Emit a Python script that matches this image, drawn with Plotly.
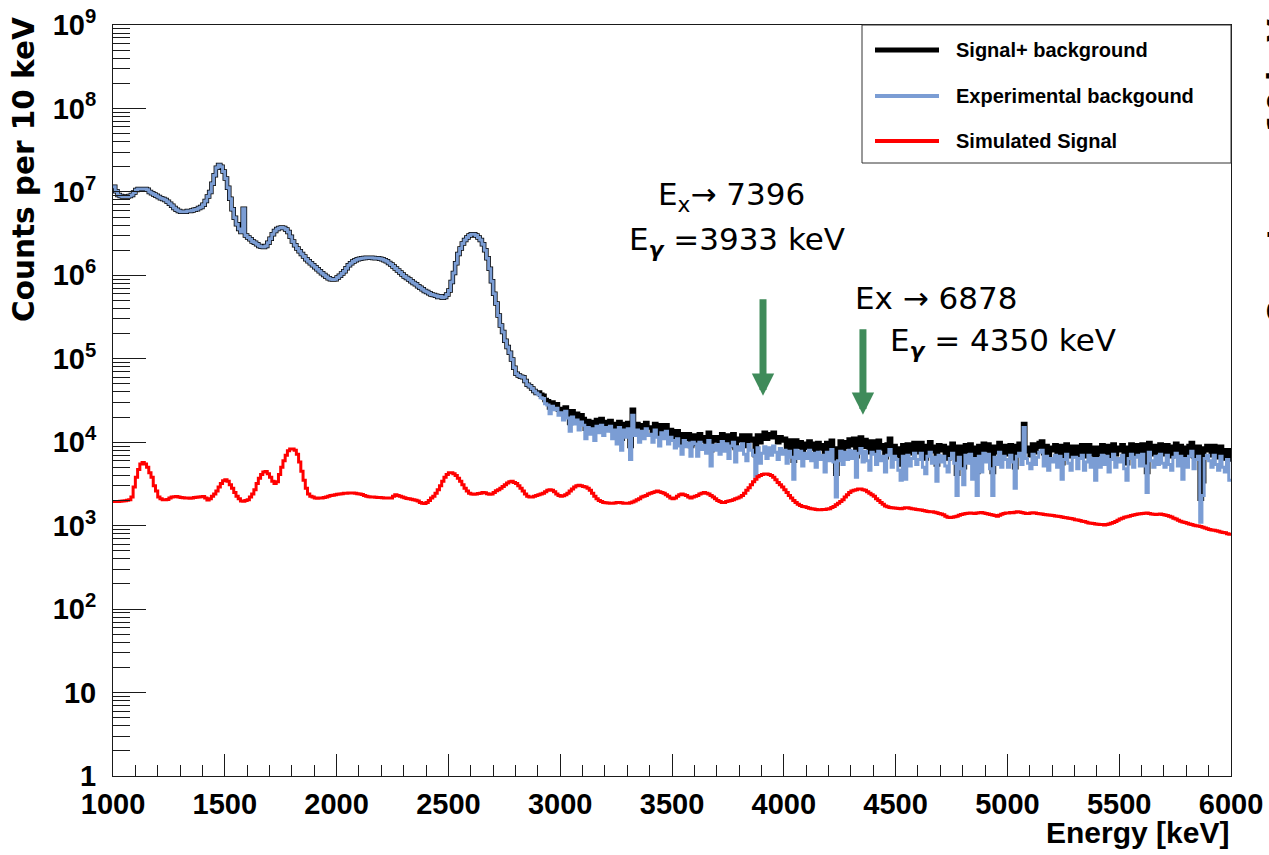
import numpy as np
import plotly.graph_objects as go

# ---------------- data (counts per 10 keV bin, bins start at 1000 keV) ----------------
bin_width = 10
energy_min = 1000
energy_max = 6000

# 1000-2890 keV: signal+background and background coincide
common_low = [
    1.15e7, 1.02e7, 9.2e6, 8.9e6, 8.8e6, 8.8e6, 8.8e6, 8.9e6, 9.2e6, 9.8e6,
    1.05e7, 1.08e7, 1.08e7, 1.08e7, 1.08e7, 1.06e7, 1.0e7, 9.6e6, 9.3e6, 9.0e6,
    8.7e6, 8.4e6, 8.2e6, 8.0e6, 7.6e6, 7.2e6, 6.8e6, 6.4e6, 6.1e6, 5.9e6,
    5.8e6, 5.8e6, 5.8e6, 5.9e6, 5.9e6, 6.0e6, 6.1e6, 6.2e6, 6.4e6, 6.6e6,
    7.0e6, 7.8e6, 8.8e6, 1.0e7, 1.25e7, 1.58e7, 1.95e7, 2.1e7, 2.0e7, 1.75e7,
    1.45e7, 1.12e7, 8.3e6, 6.2e6, 4.9e6, 4.1e6, 3.6e6, 3.3e6, 6.3e6, 3.0e6,
    2.85e6, 2.7e6, 2.55e6, 2.45e6, 2.35e6, 2.25e6, 2.2e6, 2.18e6, 2.25e6, 2.45e6,
    2.75e6, 3.1e6, 3.4e6, 3.6e6, 3.7e6, 3.75e6, 3.7e6, 3.55e6, 3.3e6, 2.9e6,
    2.55e6, 2.3e6, 2.1e6, 1.95e6, 1.8e6, 1.68e6, 1.56e6, 1.48e6, 1.4e6, 1.32e6,
    1.25e6, 1.18e6, 1.12e6, 1.06e6, 1.01e6, 9.6e5, 9.2e5, 9.0e5, 8.9e5, 9.0e5,
    9.4e5, 9.9e5, 1.05e6, 1.12e6, 1.22e6, 1.32e6, 1.4e6, 1.46e6, 1.52e6, 1.56e6,
    1.58e6, 1.6e6, 1.61e6, 1.62e6, 1.62e6, 1.62e6, 1.61e6, 1.6e6, 1.6e6, 1.58e6,
    1.56e6, 1.52e6, 1.47e6, 1.41e6, 1.35e6, 1.28e6, 1.21e6, 1.14e6, 1.08e6, 1.02e6,
    9.7e5, 9.3e5, 8.9e5, 8.5e5, 8.1e5, 7.8e5, 7.4e5, 7.1e5, 6.8e5, 6.5e5,
    6.3e5, 6.1e5, 5.9e5, 5.8e5, 5.7e5, 5.5e5, 5.6e5, 5.4e5, 5.5e5, 5.9e5,
    6.6e5, 8.3e5, 1.07e6, 1.4e6, 1.8e6, 2.1e6, 2.4e6, 2.65e6, 2.85e6, 3.0e6,
    3.1e6, 3.1e6, 3.0e6, 2.85e6, 2.65e6, 2.35e6, 2.0e6, 1.6e6, 1.2e6, 8.5e5,
    6.0e5, 4.6e5, 3.3e5, 2.5e5, 2.1e5, 1.65e5, 1.38e5, 1.18e5, 9.8e4, 7.8e4,
    6.6e4, 6.3e4, 6.1e4, 6.0e4, 5.4e4, 4.9e4, 4.7e4, 4.4e4, 4.1e4, 3.9e4,
]

# 2900-5990 keV: experimental background
background_high = [
    37000, 34000, 33500, 29000, 28000, 22000, 27000, 24500, 25500, 21000,
    22500, 18500, 23500, 19500, 13500, 20000, 16500, 18500, 14000, 17500,
    16000, 11000, 15000, 12500, 14500, 10500, 15500, 13000, 16000, 12000,
    15000, 13500, 15500, 11000, 14000, 9500, 15000, 8000, 14000, 11500,
    14500, 6200, 21000, 12000, 14000, 10000, 13500, 11000, 14500, 12000,
    12500, 10000, 14000, 11500, 9000, 13000, 11000, 13500, 9500, 11500,
    10500, 8500, 11000, 9000, 7200, 10500, 8800, 9800, 6800, 10000,
    9500, 6800, 10000, 8200, 9200, 7400, 10500, 5200, 9200, 8000,
    9400, 7200, 10200, 7800, 9600, 6400, 9000, 10000, 5800, 8800,
    8000, 9600, 7200, 6000, 9400, 8000, 7000, 3900, 8600, 5600,
    7400, 8800, 6400, 8600, 7000, 9000, 7600, 6200, 8400, 7200,
    8000, 5600, 7800, 6600, 3600, 8000, 6400, 7800, 5200, 7400,
    6400, 8000, 6000, 7400, 5000, 7600, 6200, 7000, 4400, 7600,
    6000, 8200, 5800, 2200, 6000, 7800, 5400, 7600, 6200, 8000,
    6400, 7800, 3800, 7400, 8400, 5800, 7800, 6000, 4600, 7600,
    7200, 5400, 7800, 6000, 6800, 4400, 7000, 8200, 5000, 6800,
    6200, 4600, 3500, 6800, 3600, 7000, 5200, 6400, 7400, 5400,
    6200, 7400, 5000, 4200, 6800, 7600, 5600, 6600, 3400, 7000,
    5800, 6800, 5200, 4400, 6400, 7400, 5600, 2300, 6600, 4800,
    3100, 7000, 5600, 7200, 3600, 6400, 2300, 6800, 4400, 7400,
    5800, 7200, 4800, 2300, 6600, 5400, 7600, 5000, 6800, 6200,
    5000, 7000, 5800, 2800, 6800, 7400, 5400, 15000, 6400, 5600,
    4800, 7200, 5400, 6600, 7600, 8000, 5200, 6800, 4600, 6400,
    5800, 7000, 5000, 6800, 3600, 6200, 7200, 5600, 4600, 6600,
    6600, 4800, 6400, 7000, 4600, 5800, 7000, 5000, 6400, 3500,
    6400, 5000, 7000, 5400, 6800, 4400, 6200, 7200, 5000, 6400,
    5800, 7000, 4800, 3500, 6400, 7200, 5000, 6600, 7000, 5200,
    7200, 5200, 2500, 7600, 6000, 5000, 6800, 5400, 7200, 5600,
    5000, 7000, 5400, 4600, 6600, 7400, 5200, 6800, 3600, 6400,
    5000, 6800, 7800, 4800, 6200, 6800, 1100, 2300, 6400, 7000,
    6000, 5000, 7000, 5400, 4600, 6800, 5000, 4400, 6200, 3500,
]

# 2900-5990 keV: signal + background
signal_background_high = [
    39500, 37000, 36000, 32000, 31000, 26000, 30000, 28000, 28500, 24500,
    25000, 22000, 26000, 23000, 17000, 23500, 20000, 22000, 17500, 21000,
    19000, 14500, 18000, 15500, 17500, 13500, 18500, 16000, 19000, 14500,
    17500, 16500, 18000, 14000, 16500, 12000, 17500, 11000, 16500, 14000,
    17000, 9000, 24500, 15000, 16500, 13000, 16000, 13500, 17000, 15000,
    15000, 13000, 16500, 14500, 12000, 16000, 13500, 16000, 12500, 14000,
    13000, 11000, 13500, 11500, 9500, 12500, 11000, 12500, 9000, 12000,
    12000, 9500, 12500, 10500, 11500, 10000, 13000, 8000, 11500, 10500,
    11500, 9500, 12500, 10500, 12000, 9000, 11500, 12500, 8500, 11000,
    10500, 12000, 10000, 9000, 12000, 11000, 10500, 7000, 12000, 10000,
    11500, 13000, 11000, 12500, 11500, 13000, 11500, 10000, 11500, 10500,
    11000, 8500, 10500, 9500, 6000, 10500, 8800, 10000, 7800, 9600,
    8600, 10200, 8400, 9600, 7400, 9800, 8400, 9200, 6800, 9800,
    8200, 10400, 8200, 4200, 8400, 10200, 7800, 10000, 8800, 10800,
    9200, 11000, 6800, 10400, 11400, 8800, 10600, 9000, 7600, 10200,
    9600, 7800, 10400, 8400, 9200, 6600, 9400, 11000, 7400, 9000,
    8400, 7000, 5400, 9200, 5800, 9400, 7400, 8600, 9800, 7600,
    8400, 9800, 7200, 6400, 9000, 10000, 7800, 8800, 5400, 9200,
    8000, 9000, 7400, 6400, 8600, 9600, 7800, 4200, 8800, 7000,
    5000, 9200, 7800, 9400, 5800, 8600, 4400, 9000, 6600, 9600,
    8000, 9400, 7000, 4400, 8800, 7600, 9800, 7200, 9000, 8400,
    7200, 9200, 8000, 5000, 9000, 9600, 7600, 16500, 8600, 7800,
    7000, 9400, 7600, 8800, 9800, 10200, 7400, 9000, 6800, 8600,
    8000, 9200, 7200, 9000, 5600, 8400, 9400, 7800, 6800, 8800,
    8800, 7000, 8600, 9200, 6800, 8000, 9200, 7200, 8600, 5400,
    8600, 7200, 9200, 7600, 9000, 6600, 8400, 9400, 7200, 8600,
    8000, 9200, 7000, 5600, 8600, 9400, 7200, 8800, 9200, 7400,
    9400, 7400, 4400, 9800, 8200, 7200, 9000, 7600, 9400, 7800,
    7200, 9200, 7600, 6800, 8800, 9600, 7400, 9000, 5600, 8600,
    7000, 9000, 9800, 6800, 8200, 8800, 2100, 3400, 8400, 9000,
    8000, 7000, 9000, 7400, 6600, 8800, 7000, 6400, 8000, 6200,
]

# 1000-5990 keV: simulated signal
simulated_signal = [
    1950, 1950, 1950, 1960, 1980, 1990, 2010, 2050, 2200, 2900,
    3800, 4700, 5500, 5700, 5500, 5000, 4300, 3800, 3000, 2600,
    2200, 2100, 2050, 2040, 2060, 2150, 2200, 2220, 2230, 2200,
    2170, 2160, 2150, 2140, 2130, 2150, 2170, 2190, 2200, 2220,
    2240, 2150, 2030, 2100, 2250, 2400, 2600, 2900, 3200, 3450,
    3550, 3400, 3100, 2800, 2500, 2250, 2100, 1980, 1960, 2000,
    2050, 2200, 2400, 2700, 3200, 3700, 4100, 4400, 4450, 4200,
    3800, 3400, 3200, 3350, 4100, 5000, 6000, 7000, 7900, 8300,
    8300, 8000, 7200, 5800, 4500, 3500, 2800, 2400, 2250, 2200,
    2150, 2130, 2140, 2150, 2170, 2200, 2250, 2300, 2320, 2350,
    2380, 2400, 2420, 2440, 2450, 2460, 2470, 2460, 2440, 2420,
    2400, 2360, 2300, 2250, 2220, 2200, 2200, 2190, 2180, 2170,
    2160, 2150, 2140, 2140, 2150, 2250, 2350, 2300, 2250, 2200,
    2160, 2120, 2100, 2080, 2050, 2020, 1980, 1900, 1850, 1840,
    1900, 2000, 2150, 2250, 2450, 2700, 3000, 3400, 3800, 4100,
    4300, 4300, 4200, 4000, 3700, 3400, 3100, 2800, 2600, 2450,
    2400, 2380, 2400, 2430, 2450, 2500, 2480, 2420, 2380, 2400,
    2500, 2620, 2700, 2800, 2950, 3100, 3250, 3350, 3400, 3300,
    3200, 3000, 2800, 2600, 2400, 2250, 2200, 2200, 2250, 2300,
    2350, 2400, 2450, 2550, 2650, 2700, 2650, 2550, 2400, 2300,
    2250, 2280, 2350, 2450, 2600, 2750, 2900, 3000, 3050, 3000,
    2950, 2900, 2800, 2650, 2450, 2250, 2100, 2000, 1950, 1900,
    1880, 1870, 1860, 1850, 1870, 1900, 1900, 1880, 1860, 1850,
    1860, 1880, 1920, 1980, 2050, 2100, 2200, 2250, 2300, 2400,
    2450, 2500, 2550, 2600, 2550, 2500, 2450, 2350, 2250, 2150,
    2100, 2150, 2250, 2350, 2400, 2350, 2300, 2200, 2150, 2200,
    2250, 2300, 2400, 2450, 2500, 2450, 2400, 2300, 2200, 2100,
    2000, 1950, 1900, 1900, 1950, 1980, 2000, 2050, 2100, 2150,
    2200, 2300, 2450, 2650, 2850, 3100, 3350, 3600, 3850, 4000,
    4100, 4150, 4150, 4100, 4000, 3800, 3550, 3300, 3100, 2900,
    2700, 2500, 2300, 2150, 2000, 1900, 1800, 1750, 1700, 1680,
    1650, 1620, 1600, 1580, 1560, 1550, 1550, 1560, 1560, 1580,
    1600, 1650, 1700, 1780, 1850, 1950, 2050, 2200, 2350, 2500,
    2600, 2650, 2700, 2750, 2750, 2700, 2650, 2550, 2450, 2350,
    2250, 2100, 2000, 1900, 1800, 1720, 1680, 1650, 1640, 1630,
    1620, 1610, 1600, 1620, 1640, 1640, 1620, 1600, 1580, 1560,
    1550, 1540, 1520, 1500, 1480, 1470, 1470, 1450, 1430, 1400,
    1380, 1350, 1300, 1260, 1250, 1260, 1280, 1300, 1330, 1360,
    1380, 1400, 1410, 1420, 1410, 1400, 1420, 1430, 1440, 1420,
    1400, 1380, 1360, 1340, 1320, 1300, 1330, 1370, 1400, 1420,
    1420, 1440, 1430, 1450, 1470, 1460, 1440, 1420, 1400, 1400,
    1420, 1430, 1420, 1400, 1390, 1380, 1360, 1350, 1340, 1330,
    1320, 1310, 1300, 1290, 1270, 1250, 1240, 1230, 1220, 1200,
    1180, 1170, 1150, 1130, 1120, 1100, 1080, 1070, 1060, 1050,
    1040, 1030, 1030, 1020, 1030, 1050, 1070, 1090, 1120, 1160,
    1200, 1230, 1260, 1280, 1300, 1320, 1340, 1360, 1380, 1390,
    1400, 1410, 1420, 1400, 1380, 1370, 1360, 1370, 1380, 1360,
    1340, 1320, 1300, 1270, 1230, 1200, 1160, 1130, 1110, 1090,
    1070, 1050, 1030, 1010, 1000, 990, 980, 960, 940, 920,
    900, 890, 880, 870, 860, 840, 830, 820, 800, 790,
]

signal_plus_background = common_low + signal_background_high
experimental_background = common_low + background_high

series_names = ["Signal+ background", "Experimental backgound", "Simulated Signal"]
series_colors = ["#000000", "#7b9dd4", "#ff0000"]
series_widths = [4.5, 3, 3]

x_tick_vals = [1000, 1500, 2000, 2500, 3000, 3500, 4000, 4500, 5000, 5500, 6000]
x_tick_text = [str(v) for v in x_tick_vals]
y_tick_vals = [1, 10, 1e2, 1e3, 1e4, 1e5, 1e6, 1e7, 1e8, 1e9]
y_tick_text = ["1", "10"] + ["10<sup>%d</sup>" % k for k in range(2, 10)]
y_minor_vals = [m * 10 ** d for d in range(0, 9) for m in range(2, 10)]

# annotated transitions
arrow_energy = [3907, 4354]
arrow_tip_counts = [3.6e4, 2.13e4]
arrow_length_px = [98, 87]

label_lines = [
    ("E<sub>x</sub>\u2192 7396", 3430, 6.94),
    ("E<sub><b><i>\u03b3</i></b></sub> =3933 keV", 3300, 6.41),
    ("Ex \u2192 6878", 4310, 5.73),
    ("E<sub><b><i>\u03b3</i></b></sub> = 4350 keV", 4465, 5.20),
]

# ---------------- figure ----------------
edges = np.arange(energy_min, energy_max + bin_width, bin_width)

fig = go.Figure()
for name, vals, col, w in zip(series_names,
                              [signal_plus_background, experimental_background, simulated_signal],
                              series_colors, series_widths):
    fig.add_trace(go.Scatter(
        x=edges, y=list(vals) + [vals[-1]], mode="lines", name=name,
        line=dict(color=col, width=w, shape="hv"), showlegend=False,
    ))

tick_font_family = "Liberation Sans, Arial, sans-serif"
axis_col = "#1a1a1a"

fig.update_layout(
    width=1269, height=855,
    margin=dict(l=113, r=38, t=25, b=79),
    paper_bgcolor="white", plot_bgcolor="white",
    showlegend=False,
    xaxis=dict(
        range=[energy_min, energy_max], tickmode="array", tickvals=x_tick_vals, ticktext=x_tick_text,
        ticks="inside", ticklen=22, tickwidth=1, tickcolor=axis_col,
        showline=True, linecolor=axis_col, linewidth=1, mirror=True,
        showgrid=False, zeroline=False, automargin=False,
        minor=dict(dtick=100, tick0=1000, ticks="inside", ticklen=11, tickwidth=1, tickcolor=axis_col, showgrid=False),
        tickfont=dict(family=tick_font_family, size=29, color="black", weight="bold"),
        ticklabelstandoff=2,
    ),
    yaxis=dict(
        type="log", range=[0, 9], tickmode="array", tickvals=y_tick_vals, ticktext=y_tick_text,
        ticks="inside", ticklen=33, tickwidth=1, tickcolor=axis_col,
        showline=True, linecolor=axis_col, linewidth=1, mirror=True,
        showgrid=False, zeroline=False, automargin=False,
        minor=dict(tickmode="array", tickvals=y_minor_vals, ticks="inside", ticklen=17, tickwidth=1,
                   tickcolor=axis_col, showgrid=False),
        tickfont=dict(family=tick_font_family, size=29, color="black", weight="bold"),
        ticklabelstandoff=10,
    ),
)

annotations = []
# axis titles
annotations.append(dict(
    text="<b>Energy [keV]</b>", xref="paper", yref="paper", x=1.0, y=-(832 - 776) / 751,
    xanchor="right", yanchor="middle", showarrow=False,
    font=dict(family=tick_font_family, size=30, color="black"),
))
annotations.append(dict(
    text="<b>Counts per 10 keV</b>", xref="paper", yref="paper", x=(24 - 113) / 1118, y=(776 - 170) / 751,
    xanchor="center", yanchor="middle", showarrow=False, textangle=-90,
    font=dict(family="DejaVu Sans", size=29.5, color="black"),
))
# clipped label of neighbouring panel at the right edge
annotations.append(dict(
    text="<b>Counts per 10 keV</b>", xref="paper", yref="paper", x=(1279 - 113) / 1118, y=(776 - 172) / 751,
    xanchor="center", yanchor="middle", showarrow=False, textangle=-90,
    font=dict(family="DejaVu Sans", size=29.5, color="black"),
))
# arrows
for e, c, L in zip(arrow_energy, arrow_tip_counts, arrow_length_px):
    annotations.append(dict(
        x=e, y=np.log10(c), xref="x", yref="y", ax=0, ay=-L, text="",
        showarrow=True, arrowhead=2, arrowsize=0.64, arrowwidth=7, arrowcolor="#3f8b5a",
    ))
# transition labels
for txt, e, ly in label_lines:
    annotations.append(dict(
        text=txt, x=e, y=ly, xref="x", yref="y", xanchor="left", yanchor="middle",
        showarrow=False, font=dict(family="DejaVu Sans", size=31, color="black"),
    ))

# legend (drawn)
def px_x(p):
    return (p - 113) / 1118

def px_y(p):
    return (776 - p) / 751

shapes = [dict(type="rect", xref="paper", yref="paper", x0=px_x(862), x1=1.0, y0=px_y(163), y1=1.0,
               line=dict(color="#333333", width=1), fillcolor="white", layer="above")]
legend_rows_px = [50, 96, 141]
for name, col, w, ry in zip(series_names, series_colors, [5, 4, 4], legend_rows_px):
    shapes.append(dict(type="line", xref="paper", yref="paper", x0=px_x(875), x1=px_x(939),
                       y0=px_y(ry), y1=px_y(ry), line=dict(color=col, width=w), layer="above"))
    annotations.append(dict(
        text="<b>%s</b>" % name, xref="paper", yref="paper", x=px_x(954), y=px_y(ry),
        xanchor="left", yanchor="middle", showarrow=False,
        font=dict(family="Liberation Sans, Arial, sans-serif", size=20, color="black"),
    ))

fig.update_layout(annotations=annotations, shapes=shapes)

fig.write_html("out.html", config={"displayModeBar": False},
               post_script="document.body.style.margin='0';")
